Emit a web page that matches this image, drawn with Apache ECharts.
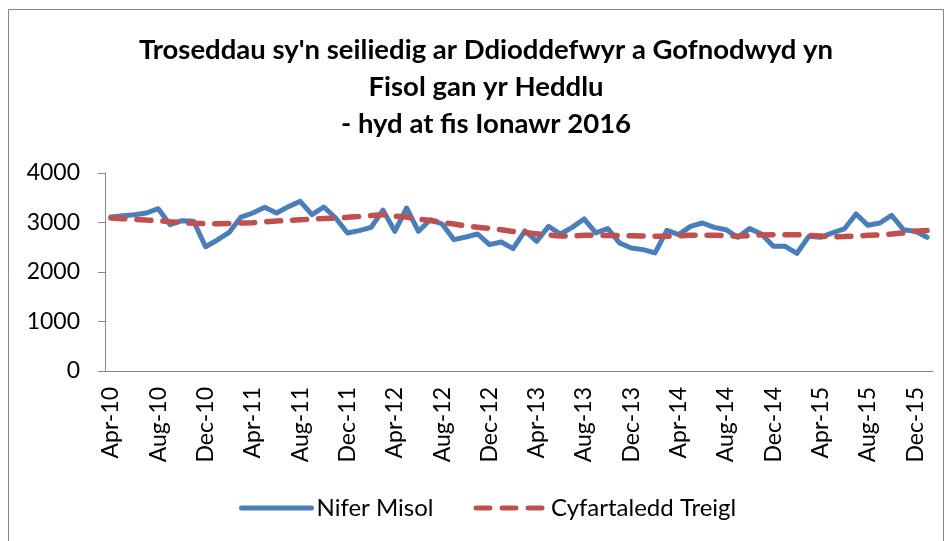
<!DOCTYPE html>
<html>
<head>
<meta charset="utf-8">
<script src="https://cdn.jsdelivr.net/npm/echarts@6/dist/echarts.min.js"></script>
<style>
html, body { margin: 0; padding: 0; background: #fff; }
#main { width: 949px; height: 541px; }
</style>
</head>
<body>
<div id="main"></div>
<script>
var months = [
	'Apr-10', 'May-10', 'Jun-10', 'Jul-10', 'Aug-10', 'Sep-10', 'Oct-10', 'Nov-10', 'Dec-10',
	'Jan-11', 'Feb-11', 'Mar-11', 'Apr-11', 'May-11', 'Jun-11', 'Jul-11', 'Aug-11', 'Sep-11', 'Oct-11', 'Nov-11', 'Dec-11',
	'Jan-12', 'Feb-12', 'Mar-12', 'Apr-12', 'May-12', 'Jun-12', 'Jul-12', 'Aug-12', 'Sep-12', 'Oct-12', 'Nov-12', 'Dec-12',
	'Jan-13', 'Feb-13', 'Mar-13', 'Apr-13', 'May-13', 'Jun-13', 'Jul-13', 'Aug-13', 'Sep-13', 'Oct-13', 'Nov-13', 'Dec-13',
	'Jan-14', 'Feb-14', 'Mar-14', 'Apr-14', 'May-14', 'Jun-14', 'Jul-14', 'Aug-14', 'Sep-14', 'Oct-14', 'Nov-14', 'Dec-14',
	'Jan-15', 'Feb-15', 'Mar-15', 'Apr-15', 'May-15', 'Jun-15', 'Jul-15', 'Aug-15', 'Sep-15', 'Oct-15', 'Nov-15', 'Dec-15',
	'Jan-16'
];

// Nifer Misol
var monthly = [
	3112, 3138, 3158, 3192, 3279, 2956, 3037, 3023, 2510,
	2647, 2801, 3110, 3192, 3306, 3192, 3320, 3427, 3158, 3313, 3091, 2789,
	2835, 2902, 3250, 2822, 3293, 2822, 3057, 2970, 2654, 2708, 2768, 2553,
	2607, 2472, 2830, 2620, 2922, 2768, 2902, 3071, 2789, 2876, 2587, 2486,
	2452, 2385, 2840, 2755, 2922, 2990, 2902, 2855, 2701, 2876, 2768, 2519,
	2519, 2378, 2721, 2701, 2789, 2870, 3172, 2943, 2990, 3144, 2855, 2822,
	2701
];

// Cyfartaledd Treigl
var rolling = [
	3091, 3078, 3064, 3050, 3037, 3015, 2995, 2985, 2975,
	2975, 2980, 2990, 2995, 3015, 3030, 3040, 3055, 3070, 3080, 3091, 3105,
	3120, 3140, 3158, 3130, 3110, 3070, 3040, 3000, 2970, 2930, 2905, 2880,
	2855, 2820, 2800, 2770, 2750, 2725, 2730, 2740, 2740, 2735, 2735, 2730,
	2725, 2721, 2721, 2730, 2740, 2741, 2741, 2735, 2721, 2735, 2750, 2755,
	2755, 2755, 2740, 2725, 2710, 2715, 2725, 2741, 2750, 2768, 2790, 2825,
	2840
];

var seriesNames = ['Nifer Misol', 'Cyfartaledd Treigl'];
var yTicks = [0, 1000, 2000, 3000, 4000];

var font = 'Lato, "Open Sans", sans-serif';
var axisGrey = '#868686';

var myChart = echarts.init(document.getElementById('main'), null, { renderer: 'canvas' });

var option = {
	backgroundColor: '#fff',
	animation: false,
	title: {
		text: 'Troseddau sy\'n seiliedig ar Ddioddefwyr a Gofnodwyd yn\nFisol gan yr Heddlu\n- hyd at fis Ionawr 2016',
		left: 481,
		top: 27,
		textAlign: 'center',
		textStyle: {
			fontFamily: font,
			fontSize: 27.5,
			fontWeight: 'bold',
			color: '#000',
			lineHeight: 37
		}
	},
	graphic: [{
		type: 'rect',
		shape: { x: 8.5, y: 9.5, width: 935, height: 540 },
		style: { fill: null, stroke: axisGrey, lineWidth: 1 },
		silent: true
	}],
	legend: {
		data: seriesNames,
		bottom: 16,
		left: 234,
		itemWidth: 70,
		itemHeight: 14,
		itemGap: 40,
		itemStyle: { opacity: 0 },
		lineStyle: { width: 5 },
		textStyle: {
			fontFamily: font,
			fontSize: 24,
			color: '#000'
		}
	},
	grid: {
		left: 105,
		right: 16,
		top: 173,
		bottom: 170,
		containLabel: false
	},
	xAxis: {
		type: 'category',
		data: months,
		boundaryGap: true,
		axisLine: { lineStyle: { color: axisGrey, width: 1 } },
		axisTick: { interval: 3, length: 6, lineStyle: { color: axisGrey } },
		axisLabel: {
			interval: 3,
			rotate: 90,
			margin: 16,
			fontFamily: font,
			fontSize: 23,
			color: '#000'
		},
		splitLine: { show: false }
	},
	yAxis: {
		type: 'value',
		min: yTicks[0],
		max: yTicks[yTicks.length - 1],
		interval: 1000,
		axisLine: { show: true, lineStyle: { color: axisGrey, width: 1 } },
		axisTick: { show: true, length: 7, lineStyle: { color: axisGrey } },
		axisLabel: {
			margin: 25,
			fontFamily: font,
			fontSize: 23,
			color: '#000',
			formatter: function(v) {
				return String(v);
			}
		},
		splitLine: { show: false }
	},
	series: [{
		name: seriesNames[0],
		type: 'line',
		data: monthly,
		symbol: 'none',
		color: '#4a7ebb',
		lineStyle: { width: 5, color: '#4a7ebb', join: 'round', cap: 'round' }
	}, {
		name: seriesNames[1],
		type: 'line',
		data: rolling,
		symbol: 'none',
		color: '#c0504d',
		z: 3,
		lineStyle: { width: 5.5, color: '#c0504d', type: [14, 12], cap: 'round' }
	}]
};

myChart.setOption(option);
</script>
</body>
</html>
